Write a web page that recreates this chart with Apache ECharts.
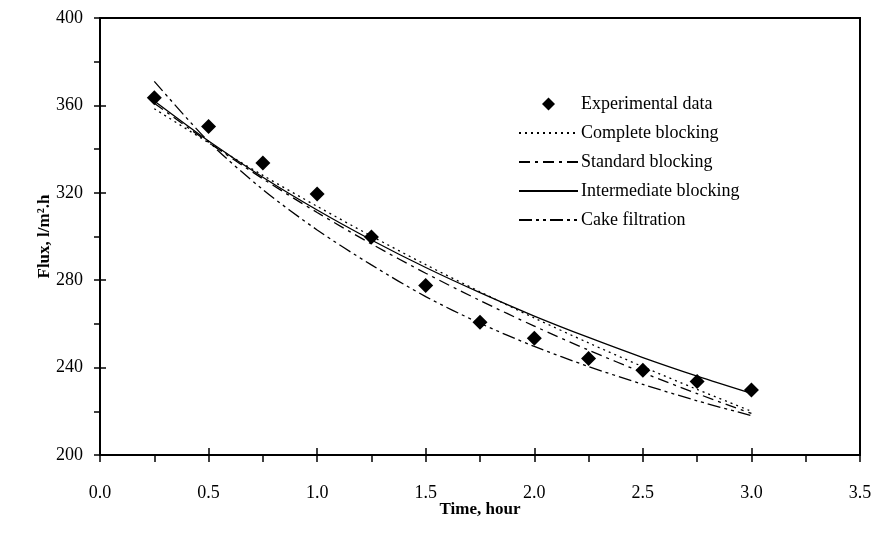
<!DOCTYPE html>
<html>
<head>
<meta charset="utf-8">
<script src="https://cdn.jsdelivr.net/npm/echarts@6/dist/echarts.min.js"></script>
<style>
  html, body { margin: 0; padding: 0; background: #fff; }
  #chart { width: 878px; height: 550px; }
</style>
</head>
<body>
<div id="chart"></div>
<script>
// Permeate flux decline over time with the four Hermia blocking-model fits
const time = [0.25, 0.5, 0.75, 1.0, 1.25, 1.5, 1.75, 2.0, 2.25, 2.5, 2.75, 3.0];

const experimental = [363.5, 350.3, 333.6, 319.5, 299.8, 277.6, 260.7, 253.4, 244.2, 238.8, 233.6, 229.8];
const completeBlocking = [358.5, 342.9, 328.0, 313.8, 300.2, 287.1, 274.7, 262.7, 251.3, 240.4, 230.0, 220.0];
const standardBlocking = [361.0, 343.1, 326.4, 311.0, 296.6, 283.2, 270.7, 259.0, 248.0, 237.7, 228.1, 219.0];
const intermediateBlocking = [362.0, 343.7, 327.1, 312.1, 298.4, 285.8, 274.3, 263.6, 253.8, 244.6, 236.1, 228.2];
const cakeFiltration = [371.0, 343.5, 321.5, 303.0, 287.0, 272.5, 260.3, 249.7, 240.5, 232.3, 224.8, 218.0];

const xTicks = { min: 0, max: 3.5, interval: 0.5 };
const yTicks = { min: 200, max: 400, interval: 40 };

const FONT = '"Liberation Serif", "Times New Roman", serif';
const DIAMOND = 'path://M0,-1L1,0L0,1L-1,0Z';

function pairs(ys) {
  return time.map((t, i) => [t, ys[i]]);
}

function fitLine(name, values, dashType) {
  return {
    name: name,
    type: 'line',
    data: pairs(values),
    smooth: 0.3,
    symbol: 'none',
    showSymbol: false,
    lineStyle: { color: '#000', width: 1.3, type: dashType },
    itemStyle: { color: '#000' },
    z: 2
  };
}

// legend entry for a fitted curve: only the line sample, no point marker
function lineEntry(name) {
  return {
    name: name,
    itemStyle: { color: 'rgba(0,0,0,0)', borderColor: 'rgba(0,0,0,0)', borderWidth: 0 }
  };
}

const chart = echarts.init(document.getElementById('chart'), null, { renderer: 'canvas' });

chart.setOption({
  animation: false,
  backgroundColor: '#fff',
  textStyle: { fontFamily: FONT, color: '#000' },
  grid: {
    left: 100, right: 18, top: 18, bottom: 95,
    show: true, borderColor: '#000', borderWidth: 2, backgroundColor: 'transparent'
  },
  legend: {
    orient: 'vertical',
    left: 513, top: 90,
    itemWidth: 59, itemHeight: 13,
    itemGap: 11,
    symbolKeepAspect: true,
    textStyle: { fontFamily: FONT, fontSize: 18, color: '#000', lineHeight: 18, padding: [0, 0, 0, -2] },
    data: [
      { name: 'Experimental data', icon: DIAMOND },
      lineEntry('Complete blocking'),
      lineEntry('Standard blocking'),
      lineEntry('Intermediate blocking'),
      lineEntry('Cake filtration')
    ]
  },
  xAxis: [
    {
      type: 'value',
      min: xTicks.min, max: xTicks.max, interval: xTicks.interval,
      name: 'Time, hour',
      nameLocation: 'middle',
      nameGap: 46,
      nameMoveOverlap: false,
      nameTextStyle: { fontFamily: FONT, fontSize: 17, fontWeight: 'bold', color: '#000' },
      axisLine: { show: true, lineStyle: { color: '#000', width: 2 } },
      axisTick: { show: true, inside: false, length: 7, lineStyle: { color: '#000', width: 1.5 } },
      minorTick: { show: true, splitNumber: 2, length: 7, lineStyle: { color: '#000', width: 1.5 } },
      axisLabel: {
        fontFamily: FONT, fontSize: 18, color: '#000', margin: 29,
        formatter: v => v.toFixed(1)
      },
      splitLine: { show: false }
    },
    {
      // inner half of the major ticks, so they cross the axis line
      type: 'value', position: 'bottom',
      min: xTicks.min, max: xTicks.max, interval: xTicks.interval,
      axisLine: { show: false },
      axisTick: { show: true, inside: true, length: 7, lineStyle: { color: '#000', width: 1.5 } },
      axisLabel: { show: false },
      splitLine: { show: false }
    }
  ],
  yAxis: [
    {
      type: 'value',
      min: yTicks.min, max: yTicks.max, interval: yTicks.interval,
      name: 'Flux, l/m².h',
      nameLocation: 'middle',
      nameGap: 47,
      nameMoveOverlap: false,
      nameTextStyle: { fontFamily: FONT, fontSize: 17, fontWeight: 'bold', color: '#000' },
      axisLine: { show: true, lineStyle: { color: '#000', width: 2 } },
      axisTick: { show: true, inside: false, length: 6, lineStyle: { color: '#000', width: 1.5 } },
      minorTick: { show: true, splitNumber: 2, length: 6, lineStyle: { color: '#000', width: 1.5 } },
      axisLabel: { fontFamily: FONT, fontSize: 18, color: '#000', margin: 17 },
      splitLine: { show: false }
    },
    {
      type: 'value', position: 'left',
      min: yTicks.min, max: yTicks.max, interval: yTicks.interval,
      axisLine: { show: false },
      axisTick: { show: true, inside: true, length: 6, lineStyle: { color: '#000', width: 1.5 } },
      axisLabel: { show: false },
      splitLine: { show: false }
    }
  ],
  series: [
    {
      name: 'Experimental data',
      type: 'scatter',
      data: pairs(experimental),
      symbol: 'diamond',
      symbolSize: 15,
      itemStyle: { color: '#000', opacity: 1 },
      z: 5
    },
    fitLine('Complete blocking', completeBlocking, [2, 4]),
    fitLine('Standard blocking', standardBlocking, [11, 5, 3, 5]),
    fitLine('Intermediate blocking', intermediateBlocking, 'solid'),
    fitLine('Cake filtration', cakeFiltration, [13, 4, 3, 4, 3, 4])
  ]
});
</script>
</body>
</html>
